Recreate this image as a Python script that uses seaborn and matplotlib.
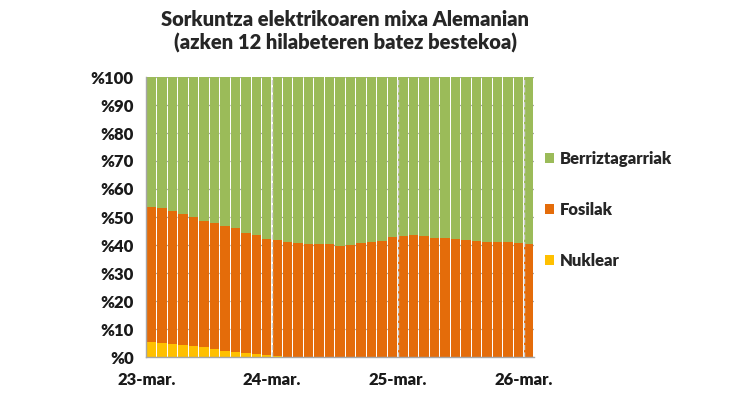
import pandas as pd
import seaborn as sns
import matplotlib.pyplot as plt
from matplotlib.patches import Patch

# 12-month rolling shares (%), March 2023 .. March 2026
months = pd.date_range('2023-03-01', '2026-03-01', freq='MS')
nuclear = [5.4, 5.1, 4.6, 4.3, 3.8, 3.5, 2.9, 2.3, 1.8, 1.3, 1.0, 0.6, 0.2,
           0, 0, 0, 0, 0, 0, 0, 0, 0, 0, 0, 0, 0, 0, 0, 0, 0, 0, 0, 0, 0, 0, 0, 0]
fossil = [48.2, 48.1, 47.7, 46.9, 46.2, 45.2, 44.8, 44.6, 44.3, 43.0, 42.7, 41.7, 41.6,
          41.0, 40.7, 40.5, 40.5, 40.4, 39.8, 40.0, 40.7, 41.2, 41.4, 42.9, 43.3, 43.6,
          43.2, 42.4, 42.6, 42.1, 41.8, 41.3, 41.1, 41.1, 41.2, 40.8, 40.4]
renewables = [46.4, 46.8, 47.7, 48.8, 50.0, 51.3, 52.3, 53.1, 53.9, 55.7, 56.3, 57.7, 58.2,
              59.0, 59.3, 59.5, 59.5, 59.6, 60.2, 60.0, 59.3, 58.8, 58.6, 57.1, 56.7, 56.4,
              56.8, 57.6, 57.4, 57.9, 58.2, 58.7, 58.9, 58.9, 58.8, 59.2, 59.6]
series_names = ['Berriztagarriak', 'Fosilak', 'Nuklear']
colors = ['#9BBB59', '#E46C0A', '#FFC000']
xtick_labels = ['23-mar.', '24-mar.', '25-mar.', '26-mar.']

df = pd.DataFrame({'month': months.strftime('%Y-%m'),
                   'Nuklear': nuclear, 'Fosilak': fossil, 'Berriztagarriak': renewables})
# cumulative tops for stacking
df['top_nuk'] = df['Nuklear']
df['top_fos'] = df['Nuklear'] + df['Fosilak']
df['top_all'] = df['top_fos'] + df['Berriztagarriak']

sns.set_style('white')
plt.rcParams['font.family'] = ['Lato', 'DejaVu Sans']
W = 'heavy'

fig = plt.figure(figsize=(7.5, 4), dpi=100)
ax = fig.add_axes([0.195, 0.1075, 0.517, 0.70])

for col, c in zip(['top_all', 'top_fos', 'top_nuk'], colors):
    sns.barplot(data=df, x='month', y=col, color=c, width=0.9, saturation=1,
                linewidth=0, ax=ax, zorder=2)

ax.set_ylim(0, 100)
ax.set_xlim(-0.5, len(df) - 0.5)
ax.set_yticks(range(0, 101, 10))
ax.set_yticklabels([f'%{v}' for v in range(0, 101, 10)], fontsize=12, fontweight=W)
ax.set_xticks([-0.5, 11.5, 23.5, 35.5])
ax.set_xticklabels(xtick_labels, fontsize=12, fontweight=W)
ax.set_xlabel('')
ax.set_ylabel('')
ax.tick_params(axis='both', length=5, color='#A6A6A6', colors='#1a1a1a', pad=4)
ax.tick_params(axis='x', pad=6)

ax.grid(True, axis='y', color='#A6A6A6', linestyle='--', linewidth=0.9, zorder=0)
ax.set_axisbelow(True)
# dashed year separators sit in the gaps between bars
for xv in [11.5, 23.5, 35.5]:
    ax.axvline(xv, color='#D0D0D0', linestyle='--', linewidth=1, zorder=3)
sns.despine(ax=ax, top=True, right=True)
for s in ['left', 'bottom']:
    ax.spines[s].set_color('#A6A6A6')
    ax.spines[s].set_linewidth(1)

fig.text(0.46, 0.975, 'Sorkuntza elektrikoaren mixa Alemanian\n(azken 12 hilabeteren batez bestekoa)',
         ha='center', va='top', fontsize=14.5, fontweight=W, linespacing=1.25)

handles = [Patch(facecolor=c, edgecolor='none') for c in colors]
fig.legend(handles, series_names, loc='center left', bbox_to_anchor=(0.706, 0.476),
           frameon=False, handlelength=0.55, handleheight=0.55,
           handletextpad=0.4, labelspacing=2.1, prop={'weight': W, 'size': 12})

fig.savefig('out.png', dpi=100)
